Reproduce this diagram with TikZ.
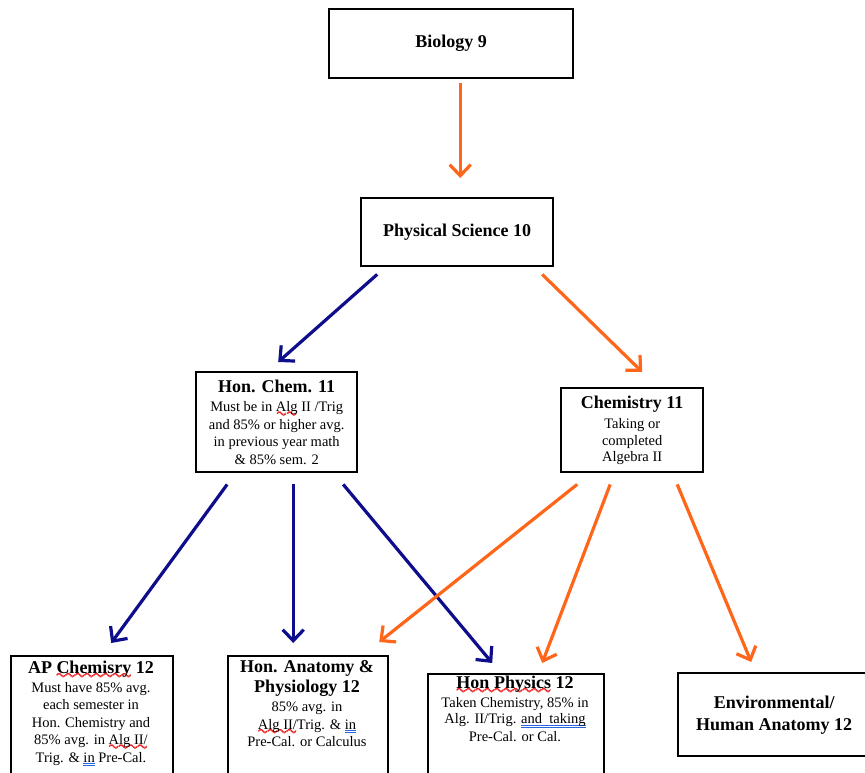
\documentclass[tikz,border=0pt]{standalone}
\usepackage{fontspec}
\setmainfont{Liberation Serif}
\usetikzlibrary{arrows.meta,calc}
\definecolor{orangeA}{RGB}{255,102,26}
\definecolor{navyA}{RGB}{14,14,140}
\definecolor{waveR}{RGB}{235,10,10}
\definecolor{gramB}{RGB}{40,100,220}
\font\wavefnt=lasy10 at 13pt
\newcommand\wavepiece{\hbox{\wavefnt\rlap{\char58}\raise0.4pt\rlap{\char58}\lower0.4pt\rlap{\char58}\kern0.3pt\hbox{\char58}}}
\newcommand\redwave[1]{\setbox0\hbox{#1}\leavevmode\rlap{\textcolor{waveR}{\lower5.5pt\hbox to \wd0{\xleaders\wavepiece\hfil}}}\box0\relax}
\newcommand\bluedbl[1]{\setbox0\hbox{#1}\leavevmode\rlap{\textcolor{gramB}{\rlap{\rule[-2.2pt]{\wd0}{0.9pt}}\rule[-4pt]{\wd0}{0.9pt}}}\box0\relax}
\newcommand\ttl[1]{{\fontsize{18}{21}\selectfont\bfseries #1}}
\begin{document}
\begin{tikzpicture}[x=1pt,y=-1pt,
  box/.style={draw=black,line width=2.4pt,rectangle,inner sep=0pt,anchor=north west},
  body/.style={align=center,inner sep=0pt,font=\fontsize{14.5}{17.5}\selectfont},
  head/.style={font=\fontsize{18}{22}\selectfont\bfseries,align=center},
  oarr/.style={draw=orangeA,line width=3.2pt,-{Straight Barb[length=11pt,width=21pt]}},
  narr/.style={oarr,draw=navyA}]
\useasboundingbox (0,0) rectangle (865,773);
\clip (0,0) rectangle (865,773);

\node[box,head,minimum width=244,minimum height=69] (bio) at (328,8) {Biology 9};
\node[box,head,minimum width=192,minimum height=68] (ps) at (360,197) {Physical Science 10};

\node[box,body,minimum width=161,minimum height=100] (hc) at (195,371)
  {\ttl{Hon. Chem. 11}\\[1.5pt] Must be in \redwave{Alg} II /Trig\\ and 85\% or higher avg.\\ in previous year math\\ \& 85\% sem. 2};
\node[box,body,minimum width=142,minimum height=84] (c11) at (560,387)
  {\ttl{Chemistry 11}\\[3pt] Taking or\\[-1pt] completed\\[-1pt] Algebra II};

\node[box,minimum width=162,minimum height=130] (ap) at (10,655) {};
\node[body,anchor=north] (apt) at (91,660.5)
  {\ttl{AP \redwave{Chemisry} 12}\\[1.5pt] Must have 85\% avg.\\ each semester in\\ Hon. Chemistry and\\ 85\% avg. in \redwave{Alg II/}\\ Trig. \& \bluedbl{in} Pre-Cal.};

\node[box,minimum width=160,minimum height=130] (anat) at (227,655) {};
\node[body,anchor=north] (anatt) at (307,660.5)
  {\ttl{Hon. Anatomy \&}\\[2pt] \ttl{Physiology 12}\\[2pt] 85\% avg. in\\ \redwave{Alg II/}Trig. \& \bluedbl{in}\\ Pre-Cal. or Calculus};

\node[box,minimum width=176,minimum height=112] (phys) at (427,673) {};
\node[body,anchor=north] (physt) at (515,675.5)
  {\ttl{\redwave{Hon Physics} 12}\\[1.5pt] Taken Chemistry, 85\% in\\[-1pt] Alg. II/Trig. \bluedbl{and\ \ taking}\\ Pre-Cal. or Cal.};

\node[box,head,minimum width=192,minimum height=83] (env) at (677,672) {Environmental/\\ Human Anatomy 12};

\draw[oarr] ($(bio.south)+(9,4)$) -- ($(ps.north)+(3,-19)$);
\draw[narr] ($(ps.south)+(-80,7)$) -- ($(hc.north)+(1.5,-9)$);
\draw[oarr] ($(ps.south)+(85,7)$) -- ($(c11.north)+(10,-15)$);
\draw[narr] ($(hc.south)+(-49.5,11)$) -- ($(ap.north)+(19,-12)$);
\draw[narr] ($(hc.south)+(16.5,11)$) -- ($(anat.north)+(-15,-12)$);
\draw[narr] ($(hc.south)+(66.5,11)$) -- ($(phys.north)+(-24,-10)$);
\draw[oarr] ($(c11.south)+(-55,11)$) -- ($(anat.north)+(71,-13)$);
\draw[oarr] ($(c11.south)+(-22,11)$) -- ($(phys.north)+(26,-10)$);
\draw[oarr] ($(c11.south)+(45,11)$) -- ($(env.north)+(-23,-10)$);
\end{tikzpicture}
\end{document}
